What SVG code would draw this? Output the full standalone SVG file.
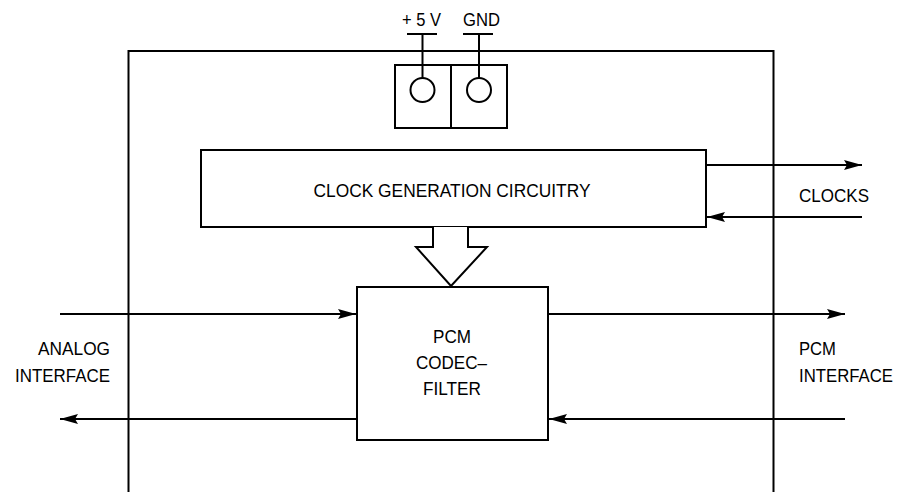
<svg xmlns="http://www.w3.org/2000/svg" width="900" height="492" viewBox="0 0 900 492">
<style>
.s{fill:none;stroke:#000;stroke-width:2}
.b{fill:#fff;stroke:#000;stroke-width:2}
text{font-family:"Liberation Sans",Arial,sans-serif;font-size:18.5px;fill:#000}
.c{text-anchor:middle}
.r{text-anchor:end}
</style>
<defs>
<marker id="ah" markerWidth="18" markerHeight="11" refX="18" refY="5.5" orient="auto" markerUnits="userSpaceOnUse">
<path d="M0,0.5 L18,5.5 L0,10.5 L3,5.5 Z" fill="#000"/>
</marker>
</defs>
<rect width="900" height="492" fill="#fff"/>
<g id="chip">
<path class="s" d="M128.5,492 V51 H773.5 V492"/>
</g>
<g id="power">
<rect class="b" x="395" y="65" width="112" height="63"/>
<line class="s" x1="451" y1="65" x2="451" y2="128"/>
<line class="s" x1="407" y1="34" x2="437" y2="34"/>
<line class="s" x1="422.5" y1="34" x2="422.5" y2="78"/>
<circle class="s" cx="422.5" cy="90" r="12"/>
<line class="s" x1="463" y1="34" x2="493" y2="34"/>
<line class="s" x1="479" y1="34" x2="479" y2="78"/>
<circle class="s" cx="479" cy="90" r="12"/>
<text class="c" x="421.5" y="26" textLength="39" lengthAdjust="spacingAndGlyphs">+ 5 V</text>
<text class="c" x="481.5" y="26" textLength="37" lengthAdjust="spacingAndGlyphs">GND</text>
</g>
<g id="clockgen">
<rect class="b" x="201" y="150" width="505" height="77"/>
<text class="c" x="452" y="196.5" textLength="277" lengthAdjust="spacingAndGlyphs">CLOCK GENERATION CIRCUITRY</text>
</g>
<g id="bigarrow">
<path class="b" d="M433,227 V247 H416 L451,286 L487,247 H468 V227"/>
</g>
<g id="codec">
<rect class="b" x="357" y="287" width="191" height="153"/>
<text class="c" x="452" y="342.5" textLength="38" lengthAdjust="spacingAndGlyphs">PCM</text>
<text class="c" x="451.5" y="369" textLength="71" lengthAdjust="spacingAndGlyphs">CODEC–</text>
<text class="c" x="452" y="395" textLength="58" lengthAdjust="spacingAndGlyphs">FILTER</text>
</g>
<g id="connectors">
<line class="s" x1="706" y1="165" x2="862" y2="165" marker-end="url(#ah)"/>
<line class="s" x1="862" y1="217" x2="707" y2="217" marker-end="url(#ah)"/>
<line class="s" x1="60" y1="314" x2="356" y2="314" marker-end="url(#ah)"/>
<line class="s" x1="357" y1="419" x2="60" y2="419" marker-end="url(#ah)"/>
<line class="s" x1="548" y1="314" x2="845" y2="314" marker-end="url(#ah)"/>
<line class="s" x1="845" y1="419" x2="549" y2="419" marker-end="url(#ah)"/>
</g>
<g id="labels">
<text x="799" y="201.5" textLength="70" lengthAdjust="spacingAndGlyphs">CLOCKS</text>
<text class="r" x="110" y="355" textLength="72" lengthAdjust="spacingAndGlyphs">ANALOG</text>
<text class="r" x="110" y="381.5" textLength="95" lengthAdjust="spacingAndGlyphs">INTERFACE</text>
<text x="799" y="355" textLength="37" lengthAdjust="spacingAndGlyphs">PCM</text>
<text x="799" y="381.5" style="font-size:17.5px" textLength="94" lengthAdjust="spacingAndGlyphs">INTERFACE</text>
</g>
</svg>
